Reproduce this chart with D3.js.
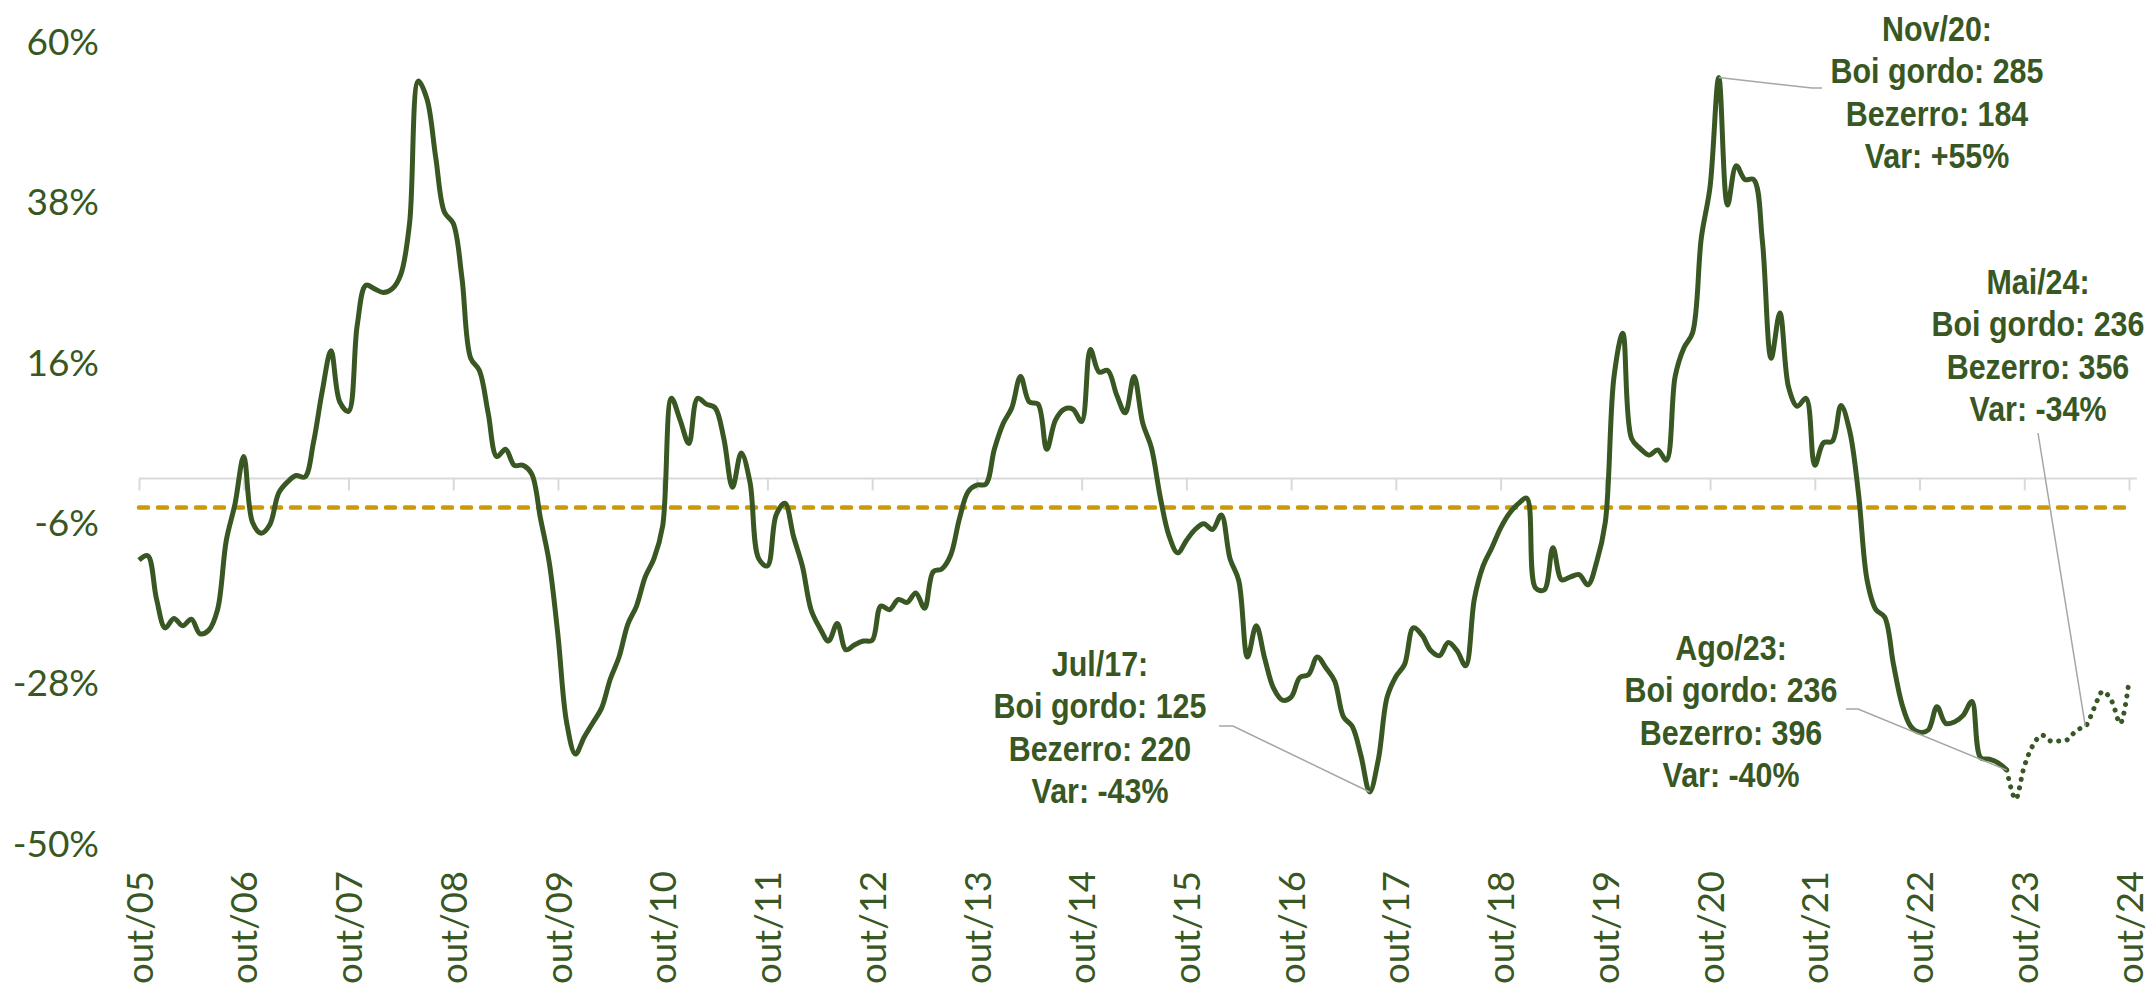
<!DOCTYPE html>
<html>
<head>
<meta charset="utf-8">
<style>
  body { margin: 0; background: #fff; }
  svg { display: block; }
</style>
</head>
<body>
<svg width="2152" height="987"></svg>
<script src="https://cdn.jsdelivr.net/npm/d3@7/dist/d3.min.js"></script>
<script>
// rótulos do eixo x (um por ano, sempre em outubro)
var tickLabels = ["out/05","out/06","out/07","out/08","out/09","out/10","out/11","out/12","out/13","out/14",
                  "out/15","out/16","out/17","out/18","out/19","out/20","out/21","out/22","out/23","out/24"];
var yTicks = [60, 38, 16, -6, -28, -50];

// relação de troca (%) mensal, out/05 até ago/23
var historico = [
  -11.2,-10.6,-16.5,-20.5,-19.2,-20.2,-19.3,-21.3,-20.8,-18.0,-8.5,-3.5,
  3.0,-6.0,-7.5,-6.3,-2.0,-0.5,0.4,0.2,5.0,12.0,17.5,10.5,
  9.2,21.0,26.5,26.0,25.5,26.0,28.0,35.0,54.5,52.0,44.0,36.5,
  35.0,27.5,16.5,14.8,9.0,3.0,4.0,1.8,1.8,0.6,-5.5,-11.5,
  -21.5,-33.5,-37.8,-35.5,-33.5,-31.5,-27.5,-24.5,-20.0,-17.5,-13.5,-11.0,
  -6.5,11.0,8.0,4.8,11.0,10.2,9.7,5.5,-1.2,3.5,-0.5,-11.0,
  -12.0,-5.0,-3.4,-8.0,-12.0,-18.0,-20.5,-22.3,-19.9,-23.5,-22.8,-22.3,
  -22.2,-17.5,-18.0,-16.6,-17.0,-15.7,-17.8,-12.8,-12.4,-10.5,-5.5,-1.8,
  -0.9,-0.8,4.0,7.5,9.7,14.0,10.5,10.2,4.0,8.0,9.5,9.5,
  7.8,17.7,14.6,14.8,11.5,9.0,14.0,7.6,4.2,-2.5,-7.8,-10.2,
  -8.5,-7.0,-6.2,-7.0,-5.0,-11.0,-14.0,-24.5,-20.2,-24.8,-28.8,-30.4,
  -30.0,-27.3,-26.9,-24.5,-26.0,-27.8,-32.7,-34.0,-38.0,-43.0,-38.5,-30.0,
  -27.2,-25.5,-20.5,-21.5,-23.6,-24.3,-22.5,-23.6,-25.7,-16.5,-12.0,-9.5,
  -6.8,-4.8,-3.5,-2.7,-15.0,-15.3,-9.5,-13.9,-13.5,-13.2,-14.6,-11.5,
  -6.0,14.0,19.9,5.5,4.1,3.2,3.9,2.5,14.0,17.9,20.0,33.0,
  40.0,55.0,37.5,42.9,41.0,41.0,32.5,16.5,22.7,12.5,9.9,11.0,
  1.8,4.9,5.1,10.0,6.5,-2.0,-14.0,-18.0,-19.0,-25.4,-31.0,-34.0,
  -34.8,-34.5,-31.3,-33.6,-33.4,-32.5,-30.6,-38.3,-38.5,-39.0,-40.0
];
// projeção (pontilhada), ago/23 até out/24
var projecao = [-40.0,-44.0,-39.5,-36.6,-35.2,-36.0,-36.0,-35.8,-34.5,-34.0,-31.5,-29.2,-30.5,-33.6,-27.8];
var media = -4.0;

var anotacoes = [
  {mes: 181, linhas: ["Nov/20:", "Boi gordo: 285", "Bezerro: 184", "Var: +55%"]},
  {mes: 141, linhas: ["Jul/17:", "Boi gordo: 125", "Bezerro: 220", "Var: -43%"]},
  {mes: 214, linhas: ["Ago/23:", "Boi gordo: 236", "Bezerro: 396", "Var: -40%"]},
  {mes: 223, linhas: ["Mai/24:", "Boi gordo: 236", "Bezerro: 356", "Var: -34%"]}
];

var verde = "#385723";
var svg = d3.select("svg");

var x = d3.scaleLinear().domain([0, 228]).range([139, 2129]);
var y = d3.scaleLinear().domain([-50, 60]).range([843, 41]);

var dadosHist = historico.map(function(v, i) { return {m: i, v: v}; });
var inicioProj = historico.length - 1;
var dadosProj = projecao.map(function(v, i) { return {m: inicioProj + i, v: v}; });
var todos = dadosHist.concat(dadosProj.slice(1));

// eixo x (linha no zero)
var xAxis = d3.axisBottom(x)
  .tickValues(d3.range(0, 229, 12))
  .tickSize(12)
  .tickFormat(function(d, i) { return tickLabels[i]; });

var gx = svg.append("g")
  .attr("transform", "translate(0," + y(0) + ")")
  .call(xAxis);
gx.select(".domain").remove();
gx.append("line")
  .attr("x1", x(0)).attr("x2", x(228) + 8)
  .attr("stroke", "#d9d9d9").attr("stroke-width", 2);
gx.selectAll(".tick line").attr("stroke", "#d9d9d9").attr("stroke-width", 2);
gx.selectAll(".tick text")
  .attr("transform", "rotate(-90)")
  .attr("text-anchor", "end")
  .attr("x", -(871 - y(0)))
  .attr("y", 0)
  .attr("dy", "0.36em")
  .attr("fill", verde)
  .style("font-family", "Lato, sans-serif")
  .style("font-size", "36.5px");

// eixo y (só rótulos)
var gy = svg.append("g")
  .attr("transform", "translate(99,0)")
  .call(d3.axisLeft(y).tickValues(yTicks).tickSize(0).tickPadding(0)
    .tickFormat(function(d) { return d + "%"; }));
gy.select(".domain").remove();
gy.selectAll("text")
  .attr("fill", verde)
  .attr("dy", "0.36em")
  .style("font-family", "Lato, sans-serif")
  .style("font-size", "37px");

// média
svg.append("line")
  .attr("x1", x(0)).attr("x2", x(228))
  .attr("y1", y(media)).attr("y2", y(media))
  .attr("stroke", "#c99a06")
  .attr("stroke-width", 4.5)
  .attr("stroke-linecap", "round")
  .attr("stroke-dasharray", "9,10");

var line = d3.line()
  .x(function(d) { return x(d.m); })
  .y(function(d) { return y(d.v); })
  .curve(d3.curveCatmullRom);

svg.append("path")
  .datum(dadosHist)
  .attr("fill", "none")
  .attr("stroke", verde)
  .attr("stroke-width", 5)
  .attr("stroke-linejoin", "round")
  .attr("d", line);

svg.append("path")
  .datum(dadosProj)
  .attr("fill", "none")
  .attr("stroke", verde)
  .attr("stroke-width", 5)
  .attr("stroke-linecap", "round")
  .attr("stroke-dasharray", "0.1,8.5")
  .attr("d", line);

// anotações: centro do texto e pontos da linha de chamada
var layout = [
  {cx: 1937, top: 28, guia: [[1822, 88], [1812, 88]]},
  {cx: 1100, top: 663, guia: [[1219, 726], [1233, 726]]},
  {cx: 1731, top: 647, guia: [[1846, 709], [1858, 709]]},
  {cx: 2038, top: 281, guia: [[2038, 433]]}
];

anotacoes.forEach(function(a, i) {
  var L = layout[i];
  var ponto = todos[a.mes];
  var pts = L.guia.concat([[x(ponto.m), y(ponto.v)]]);
  svg.append("path")
    .attr("d", d3.line()(pts))
    .attr("fill", "none")
    .attr("stroke", "#a6a6a6")
    .attr("stroke-width", 1.5);

  a.linhas.forEach(function(s, k) {
    // fonte estreita: Liberation Sans comprimida na horizontal
    svg.append("g")
      .attr("transform", "translate(" + L.cx + "," + (L.top + k * 42.5) + ") scale(0.845,1)")
      .append("text")
      .attr("dy", "0.35em")
      .attr("text-anchor", "middle")
      .attr("fill", verde)
      .style("font-family", "'Liberation Sans', Arial, sans-serif")
      .style("font-weight", "bold")
      .style("font-size", "36px")
      .text(s);
  });
});
</script>
</body>
</html>
